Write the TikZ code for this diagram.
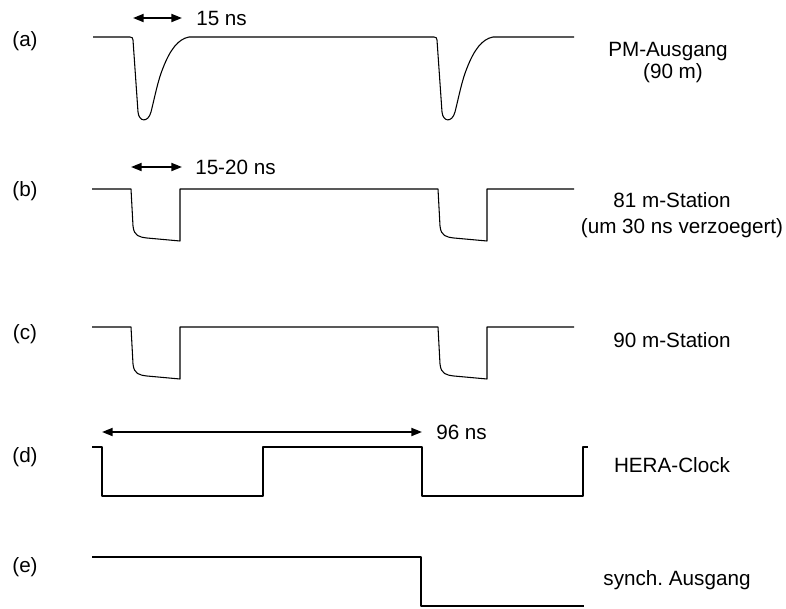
\documentclass[tikz,border=0pt]{standalone}
\usepackage{fontspec}
\setmainfont{Liberation Sans}
\usetikzlibrary{arrows.meta}
\begin{document}
\begin{tikzpicture}[x=0.75pt,y=-0.75pt,
  wave/.style={line width=0.8pt,line join=round},
  dimarrow/.style={line width=1.4pt,{Triangle[length=8pt,width=6pt]}-{Triangle[length=8pt,width=6pt]}},
  lbl/.style={font=\fontsize{15.5pt}{18pt}\selectfont,inner sep=0pt},
  dimlbl/.style={lbl,anchor=west}]
\useasboundingbox (0,0) rectangle (786,608);
% row labels
\node[lbl] (la) at (25,41) {(a)};
\node[lbl] (lb) at (25,191) {(b)};
\node[lbl] (lc) at (25,334) {(c)};
\node[lbl] (ld) at (25,457) {(d)};
\node[lbl] (le) at (25,567) {(e)};
% right labels
\node[lbl] (ta1) at (668,52) {PM-Ausgang};
\node[lbl] (ta2) at (673,73) {(90 m)};
\node[lbl] (tb1) at (672,200) {81 m-Station};
\node[lbl] (tb2) at (682,228) {(um 30 ns verzoegert)};
\node[lbl] (tc) at (672,340) {90 m-Station};
\node[lbl] (td) at (672,465) {HERA-Clock};
\node[lbl] (te) at (677,580) {synch.\ Ausgang};
% dimension labels
\node[dimlbl] (da) at (196,18) {15 ns};
\node[dimlbl] (db) at (195,167) {15-20 ns};
\node[dimlbl] (dd) at (436,432) {96 ns};
% dimension arrows
\coordinate (a1) at (133,18); \coordinate (a2) at (182,18);
\coordinate (b1) at (131,167); \coordinate (b2) at (182,167);
\coordinate (d1) at (102,432); \coordinate (d2) at (422,432);
\draw[dimarrow] (a1) -- (a2);
\draw[dimarrow] (b1) -- (b2);
\draw[dimarrow] (d1) -- (d2);
% (a) PM pulses
\draw[wave] (93,37) -- (130,37) .. controls (132,37) and (133,38) .. (133,40)
  -- (138,112) .. controls (139,122) and (148,123) .. (151,112)
  .. controls (155,96) and (158,80) .. (163,68)
  .. controls (170,50) and (178,39) .. (189,37) -- (434,37)
  .. controls (436,37) and (437,38) .. (437,40)
  -- (442,112) .. controls (443,122) and (452,123) .. (455,112)
  .. controls (459,96) and (462,80) .. (467,68)
  .. controls (474,50) and (482,39) .. (493,37) -- (574,37);
% (b) 81 m station
\draw[wave] (92,189) -- (131,189) -- (133,226) .. controls (134,236) and (139,237) .. (147,238)
  -- (180,241) -- (180,189) -- (438,189) -- (440,226)
  .. controls (441,236) and (446,237) .. (454,238) -- (487,241) -- (487,189) -- (574,189);
% (c) 90 m station
\draw[wave] (92,327) -- (131,327) -- (133,364) .. controls (134,374) and (139,375) .. (147,376)
  -- (180,379) -- (180,327) -- (438,327) -- (440,364)
  .. controls (441,374) and (446,375) .. (454,376) -- (487,379) -- (487,327) -- (574,327);
% (d) HERA clock
\draw[wave] (92,447) -- (102,447) -- (102,496) -- (263,496) -- (263,447) -- (422,447)
  -- (422,496) -- (583,496) -- (583,447) -- (588,447);
% (e) synch output
\draw[wave] (92,557) -- (421,557) -- (421,606) -- (584,606);
\end{tikzpicture}
\end{document}
